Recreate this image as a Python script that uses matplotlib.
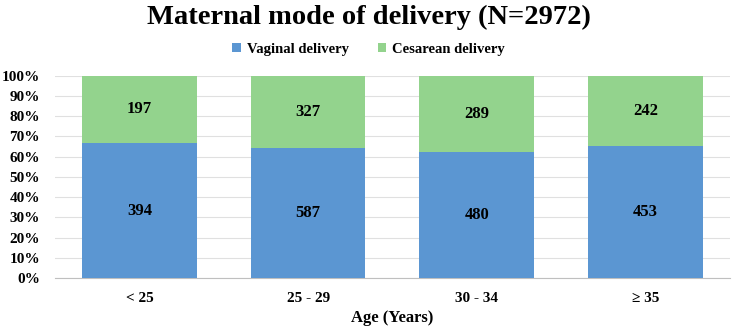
import matplotlib.pyplot as plt
import numpy as np

plt.rcParams['font.family'] = ['Liberation Serif', 'DejaVu Serif']
plt.rcParams['font.weight'] = 'bold'

age_groups = ['< 25', '25 - 29', '30 - 34', '≥ 35']
vaginal = [394, 587, 480, 453]
cesarean = [197, 327, 289, 242]

vag = np.array(vaginal, dtype=float)
ces = np.array(cesarean, dtype=float)
total = vag + ces
vag_pct = vag / total * 100
ces_pct = ces / total * 100

fig, ax = plt.subplots(figsize=(7.37, 3.29), dpi=100)
fig.subplots_adjust(left=0.075, right=0.99, top=0.77, bottom=0.155)

x = np.arange(len(age_groups))
w = 0.68
ax.bar(x, vag_pct, w, color='#5B96D2', label='Vaginal delivery', zorder=3)
ax.bar(x, ces_pct, w, bottom=vag_pct, color='#93D38D', label='Cesarean delivery', zorder=3)

for i in range(len(x)):
    ax.text(x[i], vag_pct[i] / 2, str(vaginal[i]), ha='center', va='center',
            fontsize=12, fontweight='bold', zorder=4)
    ax.text(x[i], vag_pct[i] + ces_pct[i] / 2, str(cesarean[i]), ha='center', va='center',
            fontsize=12, fontweight='bold', zorder=4)

ax.set_ylim(0, 100)
ax.set_xlim(-0.5, 3.5)
ax.set_yticks(np.arange(0, 101, 10))
ax.set_yticklabels([f'{v}%' for v in range(0, 101, 10)], fontsize=11, fontweight='bold')
ax.set_xticks(x)
ax.set_xticklabels(age_groups, fontsize=11, fontweight='bold')
ax.tick_params(length=0)
ax.tick_params(axis='y', pad=11)
ax.tick_params(axis='x', pad=10)
ax.yaxis.grid(True, color='#E0E0E0', linewidth=0.8, zorder=0)
for s in ['top', 'right', 'left']:
    ax.spines[s].set_visible(False)
ax.spines['bottom'].set_color('#BFBFBF')

ax.set_xlabel('Age (Years)', fontsize=12, fontweight='bold', labelpad=4)
fig.suptitle('Maternal mode of delivery (N=2972)', fontsize=20.5, fontweight='bold', y=0.985)
fig.legend(loc='upper center', bbox_to_anchor=(0.5, 0.91), ncol=2, frameon=False,
           fontsize=10.5, handlelength=0.6, handleheight=0.6, columnspacing=2.0,
           handletextpad=0.4)

fig.savefig('out.png')
